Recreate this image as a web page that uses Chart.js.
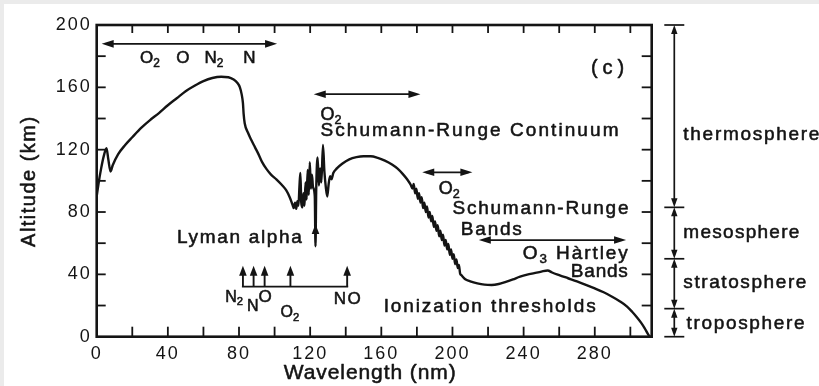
<!DOCTYPE html>
<html><head><meta charset="utf-8">
<script src="https://cdn.jsdelivr.net/npm/chart.js@4.4.1/dist/chart.umd.min.js"></script>
<style>html,body{margin:0;padding:0;background:#fff}#wrap{width:819px;height:386px;position:relative}</style>
</head><body><div id="wrap"><canvas id="c"></canvas></div>
<script>
// ---- data ----
const wavelengthNm = [0,1,2.5,4,5.5,6.5,7.8,9,12,16,20,25,30,35,40,45,50,55,60,65,70,74,77,79,80.5,81.5,82.2,82.6,83.2,85,87,89,91,93,95.5,98,101,104,106.5,108.5,110,
110.8,111.5,112.2,112.8,113.4,114,114.5,115,115.6,116.2,116.8,117.4,118,118.6,119.2,119.8,120.4,121,121.6,122.6,123,123.4,124.2,124.9,125.6,126.3,127.2,128,128.8,129.6,130.4,131.2,132,133,135,138,142,146,150,154,158,162,166,169,172,174.5,176.5,
177.5,178.2,179,179.7,180.5,181.2,182,182.7,183.5,184.2,185,185.7,186.5,187.2,188,188.7,189.5,190.2,191,191.7,192.5,193.2,194,194.7,195.5,196.2,197,197.7,198.5,199.2,200,200.7,201.5,202.2,203,203.6,204.3,205,
207,210,214,218,222,226,230,234,238,242,246,250,253.5,256,260,265,270,275,280,285,290,294,298,301,304,306,308,310,311];
const altitudeKm = [90,98,108,116,121,114,106,110,117,123,128,134,139,143.5,148.5,153,157.5,161,164,166,166.8,166.5,165,163,160,155.5,150,143,137,131,126,121.5,117,112,107.5,104,101,97.5,94,89.5,85,
82.5,86,82,87,84,97,105,86,83,92,84,99,88,107,91,112,95,104,96,90,58,94,115,97,108,99,123,106,96,90,98,103,101,105,108,111,113.8,115.2,115.8,115.8,114.8,113,110.5,108,104.5,101,97.5,
95,98,92,95,88.5,92,86,89.5,82.5,86,80,83.5,76.5,80,74,77.5,70.5,74,68,71.5,64.5,68,62,65.5,58.5,62,56,59.5,52.5,56,50,53,46.5,49.5,44,46,40.5,39.5,
37,35.5,34.2,33.4,33.2,33.8,35.2,36.8,38.5,39.8,40.8,41.8,42.5,41.2,39.5,37.5,35.5,33.3,31,28.5,25.5,22.8,19.5,16,12,9,5.5,1.5,0];
const xTickLabels = [0,40,80,120,160,200,240,280];
const yTickLabels = [0,40,80,120,160,200];
const layerNames = ['thermosphere','mesosphere','stratosphere','troposphere'];
const layerBoundsKm = [200,83,50,18,0];
const ionThresholdNm = [82.2,88.2,94.4,108.9,140.8];
const lymanAlphaNm = 123;

const INK = '#141414';
const FONT = '"Liberation Sans", Arial, Helvetica, sans-serif';

function drawText(ctx, segs, x, y, size, width, align) {
  ctx.save();
  ctx.textBaseline = 'middle';
  ctx.textAlign = 'left';
  ctx.fillStyle = INK; ctx.strokeStyle = INK; ctx.lineWidth = 0.55; ctx.lineJoin = 'round';
  let w0 = 0, n = 0;
  segs.forEach(([t, s]) => {
    ctx.font = (s ? size * 0.7 : size) + 'px ' + FONT;
    ctx.letterSpacing = '0px';
    w0 += ctx.measureText(t).width; n += [...t].length;
  });
  const ls = width ? Math.max(0, (width - w0) / Math.max(1, n - 1)) : 0;
  const total = w0 + ls * (n - 1);
  let cx = align === 'right' ? x - total : align === 'center' ? x - total / 2 : x;
  segs.forEach(([t, s]) => {
    ctx.font = (s ? size * 0.7 : size) + 'px ' + FONT;
    ctx.letterSpacing = ls + 'px';
    const yy = y + (s ? size * 0.3 : 0);
    ctx.fillText(t, cx, yy);
    ctx.strokeText(t, cx, yy);
    cx += ctx.measureText(t).width;
  });
  ctx.restore();
}
function seg(ctx, x1, y1, x2, y2) { ctx.beginPath(); ctx.moveTo(x1, y1); ctx.lineTo(x2, y2); ctx.stroke(); }
function head(ctx, x, y, dx, dy, len, half) {
  ctx.beginPath(); ctx.moveTo(x, y);
  ctx.lineTo(x - dx * len - dy * half, y - dy * len + dx * half);
  ctx.lineTo(x - dx * len + dy * half, y - dy * len - dx * half);
  ctx.closePath(); ctx.fill();
}

const decor = {
  id: 'decor',
  beforeDraw(chart) {
    const ctx = chart.ctx;
    ctx.fillStyle = '#ebebeb'; ctx.fillRect(0, 0, chart.width, chart.height);
    ctx.fillStyle = '#ffffff'; ctx.fillRect(4, 4, chart.width - 4, chart.height - 4);
    ctx.letterSpacing = '2px';
  },
  afterDraw(chart) {
    const ctx = chart.ctx;
    ctx.letterSpacing = '0px';
    const xs = chart.scales.x, ys = chart.scales.y;
    const X = v => xs.getPixelForValue(v), Y = v => ys.getPixelForValue(v);
    const { left, right, top, bottom } = chart.chartArea;
    ctx.save();
    ctx.strokeStyle = INK; ctx.fillStyle = INK; ctx.lineCap = 'butt';
    ctx.lineWidth = 2.6;
    ctx.strokeRect(left, top, right - left, bottom - top);
    ctx.lineWidth = 1.8;
    for (let v = 20; v < xs.max; v += 20) { seg(ctx, X(v), bottom, X(v), bottom - 10); seg(ctx, X(v), top, X(v), top + 8); }
    for (let v = 20; v < ys.max; v += 20) { seg(ctx, left, Y(v), left + 9, Y(v)); seg(ctx, right, Y(v), right - 10, Y(v)); }

    ctx.lineWidth = 1.7;
    const hArrow = (a, b, alt) => {
      const y = Y(alt); seg(ctx, X(a) + 4, y, X(b) - 4, y);
      head(ctx, X(a), y, -1, 0, 12, 3.8); head(ctx, X(b), y, 1, 0, 12, 3.8);
    };
    hArrow(2.8, 101.4, 187.9);
    hArrow(122, 182, 155.6);
    hArrow(183, 211.2, 105.5);
    hArrow(214.8, 297.6, 62);

    head(ctx, X(lymanAlphaNm), Y(72.3), 0, -1, 10, 3.8);

    ctx.lineWidth = 1.9;
    seg(ctx, X(ionThresholdNm[0]) - 1, Y(32.1), X(ionThresholdNm[ionThresholdNm.length - 1]) + 1, Y(32.1));
    ionThresholdNm.forEach(v => { seg(ctx, X(v), Y(32.1), X(v), Y(43)); head(ctx, X(v), Y(45.5), 0, -1, 10, 3.8); });

    ctx.lineWidth = 1.7;
    const lx = X(324.7);
    layerBoundsKm.forEach(b => seg(ctx, lx - 10, Y(b), lx + 10, Y(b)));
    for (let i = 0; i < layerNames.length; i++) {
      const a = Y(layerBoundsKm[i]), b = Y(layerBoundsKm[i + 1]);
      seg(ctx, lx, a + 4, lx, b - 4);
      head(ctx, lx, a, 0, -1, 9, 3.2); head(ctx, lx, b, 0, 1, 9, 3.2);
    }
    ctx.restore();

    const L = (t) => [[t, false]];
    const O2 = [['O', false], ['2', true]];
    drawText(ctx, O2, X(24.4), Y(178.6), 17, 0, 'left');
    drawText(ctx, L('O'), X(44.7), Y(178.6), 17, 0, 'left');
    drawText(ctx, [['N', false], ['2', true]], X(60.6), Y(178.6), 17, 0, 'left');
    drawText(ctx, L('N'), X(82.4), Y(178.6), 17, 0, 'left');
    drawText(ctx, L('(c)'), X(277.9), Y(172.4), 20, 33, 'left');
    drawText(ctx, O2, X(125.8), Y(142.3), 18, 0, 'left');
    drawText(ctx, L('Schumann-Runge Continuum'), X(125.8), Y(132.2), 19, 298, 'left');
    drawText(ctx, O2, X(192.3), Y(94.8), 18, 0, 'left');
    drawText(ctx, L('Schumann-Runge'), X(200), Y(82.4), 19, 176, 'left');
    drawText(ctx, L('Bands'), X(204.7), Y(68.9), 19, 61, 'left');
    drawText(ctx, [['O', false], ['3', true], [' Hàrtley', false]], X(298.6), Y(53.5), 19, 105, 'right');
    drawText(ctx, L('Bands'), X(298.6), Y(41.7), 19, 57, 'right');
    drawText(ctx, L('Ionization thresholds'), X(161.3), Y(18.9), 19, 212, 'left');
    drawText(ctx, L('Lyman alpha'), X(45.1), Y(63.2), 19, 125, 'left');
    drawText(ctx, [['N', false], ['2', true]], X(72.3), Y(25.2), 16, 0, 'left');
    drawText(ctx, L('N'), X(84.5), Y(19.0), 16, 0, 'left');
    drawText(ctx, L('O'), X(91.0), Y(25.0), 17, 0, 'left');
    drawText(ctx, O2, X(103.3), Y(15.2), 16, 0, 'left');
    drawText(ctx, L('NO'), X(133.3), Y(24.2), 17, 27, 'left');
    drawText(ctx, L(layerNames[0]), X(329.8), Y(129.5), 19, 136, 'left');
    drawText(ctx, L(layerNames[1]), X(329.8), Y(66.6), 19, 116, 'left');
    drawText(ctx, L(layerNames[2]), X(329.8), Y(34.5), 19, 123, 'left');
    drawText(ctx, L(layerNames[3]), X(331.6), Y(8.6), 19, 118, 'left');
    drawText(ctx, L('Wavelength (nm)'), X(153.5), Y(-23.3), 21, 172, 'center');
    ctx.save();
    ctx.translate(X(-37.6), Y(99.3)); ctx.rotate(-Math.PI / 2);
    drawText(ctx, L('Altitude (km)'), 0, 0, 20, 130, 'center');
    ctx.restore();
  }
};

new Chart(document.getElementById('c'), {
  type: 'line',
  data: { datasets: [{
    data: wavelengthNm.map((x, i) => ({ x, y: altitudeKm[i] })),
    borderColor: INK, borderWidth: 2.4, pointRadius: 0, fill: false,
    cubicInterpolationMode: 'monotone'
  }] },
  options: {
    responsive: true, maintainAspectRatio: false, animation: false, devicePixelRatio: 1,
    layout: { padding: { top: 25, right: 167.3, left: 0, bottom: 0 } },
    plugins: { legend: { display: false }, tooltip: { enabled: false } },
    scales: {
      x: {
        type: 'linear', min: 0, max: 312,
        grid: { display: false, drawTicks: false }, border: { display: false },
        afterBuildTicks: s => { s.ticks = xTickLabels.map(v => ({ value: v })); },
        afterFit: s => { s.height = 49.3; },
        ticks: { font: { family: FONT, size: 18 }, color: INK, padding: 7, maxRotation: 0, autoSkip: false }
      },
      y: {
        type: 'linear', min: 0, max: 200,
        grid: { display: false, drawTicks: false }, border: { display: false },
        afterBuildTicks: s => { s.ticks = yTickLabels.map(v => ({ value: v })); },
        afterFit: s => { s.width = 96.7; },
        ticks: { font: { family: FONT, size: 18 }, color: INK, padding: 5, autoSkip: false }
      }
    }
  },
  plugins: [decor]
});
</script></body></html>
